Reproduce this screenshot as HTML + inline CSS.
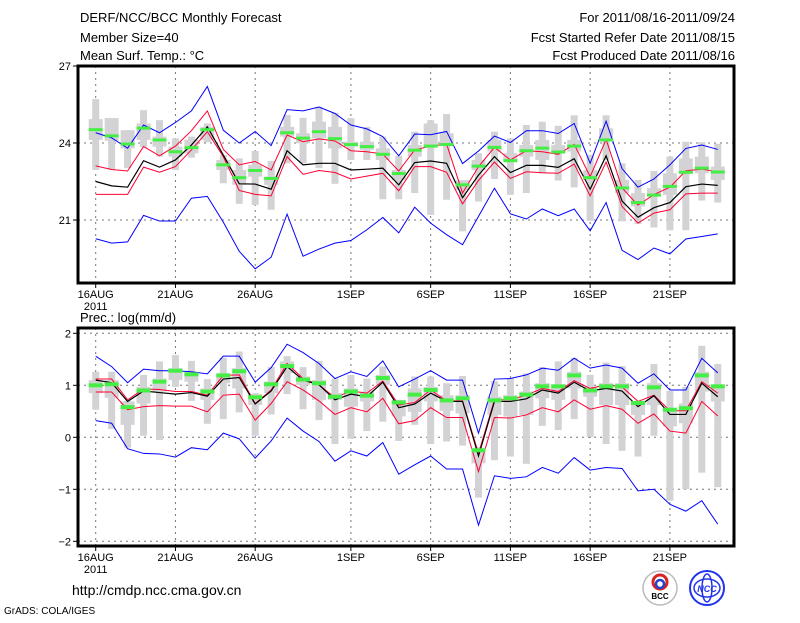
<!DOCTYPE html>
<html><head><meta charset="utf-8"><style>
html,body{margin:0;padding:0;background:#fff;}
svg text{font-family:"Liberation Sans",sans-serif;fill:#000;}
</style></head><body>
<svg id="chart" width="800" height="618" viewBox="0 0 800 618" xmlns="http://www.w3.org/2000/svg">
<text x="80" y="22" font-size="13">DERF/NCC/BCC Monthly Forecast</text>
<text x="80" y="42" font-size="13">Member Size=40</text>
<text x="80" y="60" font-size="13">Mean Surf. Temp.: °C</text>
<text x="735" y="22" font-size="13" text-anchor="end">For 2011/08/16-2011/09/24</text>
<text x="735" y="42" font-size="13" text-anchor="end">Fcst Started Refer Date 2011/08/15</text>
<text x="735" y="60" font-size="13" text-anchor="end">Fcst Produced Date 2011/08/16</text>
<text x="80" y="322" font-size="13">Prec.: log(mm/d)</text>
<text x="72" y="595" font-size="14">http://cmdp.ncc.cma.gov.cn</text>
<text x="4" y="614" font-size="10">GrADS: COLA/IGES</text>
<g>
<circle cx="660" cy="588" r="17" fill="#fff" stroke="#bbb" stroke-width="1.5"/>
<circle cx="660" cy="582" r="7" fill="none" stroke="#d22" stroke-width="3"/>
<circle cx="660" cy="584" r="4" fill="none" stroke="#24c" stroke-width="2.5"/>
<text x="660" y="599" font-size="8" text-anchor="middle" font-weight="bold">BCC</text>
</g>
<g>
<circle cx="707" cy="588" r="17" fill="#fff" stroke="#23e" stroke-width="2"/>
<ellipse cx="707" cy="588" rx="13" ry="9" fill="none" stroke="#23e" stroke-width="1.5"/>
<ellipse cx="707" cy="588" rx="5" ry="14" fill="none" stroke="#23e" stroke-width="1.5"/>
<text x="707" y="592" font-size="9" text-anchor="middle" font-style="italic" font-weight="bold" style="fill:#23e">NCC</text>
</g>
</svg>
<script>
const days = 40;
const tickDays = [0,5,10,16,21,26,31,36];
const tickLabels = ["16AUG","21AUG","26AUG","1SEP","6SEP","11SEP","16SEP","21SEP"];
const tTicks = [27,24,21];
const pTicks = [2,1,0,-1,-2];
// Temperature panel
const tHi=[24.4,24.2,23.8,24.7,24.4,24.8,25.25,26.2,24.5,24.0,24.45,23.9,25.3,25.25,25.4,25.15,24.7,24.55,24.25,23.5,24.35,24.32,24.45,23.2,23.69,24.27,24.02,24.48,24.48,24.37,24.76,23.21,24.85,23.0,22.28,22.6,23.15,23.79,23.92,23.75];
const tLo=[20.27,20.1,20.15,21.18,20.96,20.96,21.85,21.92,20.92,19.78,19.1,19.55,21.23,19.59,19.87,20.1,20.2,20.62,21.1,20.5,21.5,20.88,20.43,20.04,21.14,22.24,21.24,21.04,21.43,21.17,21.43,20.58,21.68,19.82,19.46,19.91,19.68,20.26,20.36,20.46];
const tRu=[23.11,22.97,22.91,23.86,23.5,23.88,24.48,25.25,23.75,23.15,23.28,22.95,24.31,24.05,24.16,24.08,23.7,23.66,23.57,22.91,23.73,23.88,23.96,22.05,23.08,23.83,23.34,23.7,23.66,23.56,23.95,22.69,24.14,22.25,21.58,21.99,22.28,22.92,22.98,22.88];
const tMid=[22.5,22.33,22.28,23.31,23.06,23.34,23.92,24.63,23.53,22.41,22.4,22.2,23.7,23.15,23.21,23.21,22.95,22.98,23.02,22.37,23.24,23.3,23.21,21.87,22.75,23.47,22.85,23.13,23.13,23.05,23.39,22.2,23.5,21.74,21.11,21.48,21.68,22.3,22.4,22.35];
const tRl=[22.0,22.0,22.0,23.06,22.86,23.08,23.73,24.44,23.47,22.15,22.0,21.94,23.47,22.78,22.93,22.85,22.6,22.71,22.82,22.14,23.08,23.08,22.86,21.63,22.54,23.26,22.62,22.88,22.84,22.82,23.18,21.94,23.26,21.53,20.88,21.27,21.4,22.02,22.05,22.05];
const tGreen=[24.52,24.28,23.96,24.58,24.12,23.66,23.82,24.52,23.15,22.65,22.93,22.62,24.4,24.19,24.44,24.17,23.94,23.86,23.56,22.81,23.72,23.88,23.94,22.37,23.1,23.83,23.31,23.7,23.8,23.65,23.88,22.65,24.12,22.25,21.68,21.97,22.31,22.86,23.02,22.87];
const tMax=[25.71,24.97,24.5,25.28,24.89,24.18,24.25,24.76,23.53,23.4,23.69,23.3,25.09,24.98,25.41,25.18,24.97,24.63,24.25,23.5,24.44,24.89,25.13,22.55,23.6,24.44,24.18,24.7,24.83,24.67,25.08,23.54,25.08,23.21,22.56,22.91,23.47,24.05,24.03,23.97];
const tMin=[22.95,22.95,23.02,23.83,23.47,22.95,23.43,24.03,22.43,21.63,21.59,21.4,23.21,23.21,23.02,22.41,23.34,23.34,21.81,21.81,22.05,21.2,21.79,20.56,21.72,22.6,21.98,22.05,22.82,22.54,22.27,20.97,23.34,20.95,20.84,20.71,20.6,20.6,21.76,21.68];
const tQ3=[24.93,24.97,24.5,24.76,24.25,23.86,24.12,24.63,23.34,22.95,23.15,22.69,24.63,24.38,24.83,24.63,24.05,24.05,23.79,22.95,23.92,24.76,24.38,22.55,23.34,24.12,23.6,23.92,24.12,23.92,24.12,22.95,24.57,22.56,22.05,22.24,22.82,23.4,23.47,23.08];
const tQ1=[24.12,24.09,23.79,24.12,23.86,23.47,23.6,24.12,22.95,22.37,22.69,22.37,24.25,23.99,24.18,23.79,23.86,23.73,23.34,22.56,23.47,23.92,23.92,22.17,22.95,23.67,23.34,23.47,23.34,23.6,23.67,22.56,24.12,22.05,21.53,21.92,21.98,22.82,22.82,22.56];
// Precipitation panel
const pHi=[1.56,1.36,1.05,1.31,1.28,1.28,1.26,1.22,1.56,1.56,1.06,1.34,1.79,1.63,1.42,1.13,1.26,1.17,1.47,0.97,1.12,1.28,1.1,1.1,0.08,1.12,1.13,1.2,1.33,1.29,1.52,1.33,1.39,1.33,1.04,1.22,0.91,0.91,1.52,1.24];
const pLo=[0.32,0.27,-0.22,-0.31,-0.32,-0.38,-0.2,-0.24,0.08,-0.03,-0.4,-0.07,0.37,0.12,-0.08,-0.46,-0.26,-0.36,-0.1,-0.71,-0.53,-0.36,-0.61,-0.61,-1.69,-0.74,-0.79,-0.76,-0.58,-0.69,-0.39,-0.63,-0.58,-0.6,-1.03,-1.0,-1.29,-1.42,-1.22,-1.67];
const pRu=[1.12,1.12,0.72,0.93,0.92,0.88,0.88,0.81,1.19,1.2,0.65,0.91,1.42,1.13,1.01,0.76,0.89,0.85,1.08,0.62,0.67,0.91,0.7,0.7,-0.31,0.72,0.72,0.81,0.94,0.88,1.09,0.94,1.01,0.97,0.69,0.81,0.51,0.51,1.07,0.85];
const pMid=[1.1,1.05,0.69,0.89,0.86,0.83,0.86,0.79,1.12,1.15,0.64,0.89,1.36,1.1,1.01,0.72,0.83,0.78,1.06,0.57,0.64,0.85,0.69,0.69,-0.36,0.69,0.69,0.74,0.91,0.85,1.06,0.89,0.94,0.89,0.59,0.8,0.44,0.44,1.04,0.78];
const pRl=[0.87,0.87,0.53,0.59,0.61,0.6,0.6,0.49,0.81,0.83,0.33,0.65,1.07,0.91,0.7,0.44,0.57,0.49,0.75,0.26,0.32,0.57,0.38,0.38,-0.66,0.38,0.37,0.43,0.57,0.49,0.72,0.54,0.61,0.54,0.27,0.45,0.12,0.08,0.69,0.41];
const pGreen=[1.01,1.03,0.59,0.91,1.08,1.29,1.22,0.89,1.2,1.28,0.78,1.03,1.38,1.12,1.05,0.79,0.89,0.81,1.15,0.68,0.83,0.92,0.72,0.76,-0.24,0.72,0.76,0.83,0.99,0.99,1.2,0.91,0.99,0.99,0.67,0.97,0.54,0.57,1.2,0.99];
const pMax=[1.26,1.26,0.7,1.2,1.46,1.58,1.47,1.12,1.53,1.65,0.85,1.35,1.56,1.35,1.47,1.13,1.2,1.13,1.36,0.72,1.17,1.17,1.04,1.18,-0.19,1.08,1.13,1.23,1.35,1.46,1.53,1.2,1.44,1.37,0.69,1.41,0.89,0.97,1.76,1.41];
const pMin=[0.53,0.16,-0.2,0.03,-0.05,0.97,0.7,0.26,0.35,0.48,0.03,0.44,0.83,0.54,0.33,-0.13,-0.03,0.12,0.3,-0.07,0.24,-0.13,-0.08,-0.16,-1.16,-0.44,-0.37,-0.51,0.22,0.14,0.35,0.01,-0.13,-0.26,-0.37,0.03,-1.22,-1.0,-0.68,-0.96];
const pQ3=[1.1,1.1,0.69,0.97,1.13,1.33,1.26,0.94,1.23,1.33,0.83,1.07,1.46,1.17,1.1,0.85,0.94,0.88,1.2,0.72,0.94,0.97,0.81,0.81,-0.24,0.78,0.81,0.88,1.04,1.01,1.26,0.97,1.04,1.04,0.69,1.04,0.56,0.65,1.26,1.01];
const pQ1=[0.85,0.76,0.24,0.65,0.88,1.1,1.07,0.72,1.04,0.94,0.62,0.85,1.23,1.01,0.72,0.72,0.59,0.69,1.01,0.4,0.49,0.69,0.51,0.46,-0.5,0.43,0.4,0.43,0.75,0.72,0.94,0.78,0.62,0.62,0.43,0.62,0.21,0.27,0.88,0.69];

const NS='http://www.w3.org/2000/svg';
const svg=document.getElementById('chart');
const X0=95.7, DX=15.95, LEFT=78, RIGHT=734;
function xScale(i){return X0+i*DX;}
function mk(tag,attrs,parent){const e=document.createElementNS(NS,tag);for(const k in attrs)e.setAttribute(k,attrs[k]);(parent||svg).appendChild(e);return e;}

function panel(cfg){
  const y=v=>cfg.yTop+(cfg.vTop-v)*cfg.ppu;
  const g=mk('g',{});
  
  
  // grid
  cfg.ticks.forEach(t=>{
    const l=mk('line',{x1:LEFT,x2:RIGHT,y1:y(t),y2:y(t),stroke:'#777','stroke-dasharray':'2,4','stroke-width':1},g);
    
    
    const tk=mk('line',{x1:LEFT-5,x2:LEFT,y1:y(t),y2:y(t),stroke:'#000'},g);
    
    
    const tx=mk('text',{x:LEFT-7,y:y(t)+4,'font-size':11,'text-anchor':'end'},g);
    tx.textContent=String(t).replace('-','−');
    
    
  });
  tickDays.forEach((d,k)=>{
    const l=mk('line',{x1:xScale(d),x2:xScale(d),y1:cfg.frameTop,y2:cfg.frameBot,stroke:'#777','stroke-dasharray':'2,4','stroke-width':1},g);
    
    
    const tk=mk('line',{x1:xScale(d),x2:xScale(d),y1:cfg.frameBot,y2:cfg.frameBot+5,stroke:'#000'},g);
    
    
    const tx=mk('text',{x:xScale(d),y:cfg.frameBot+15,'font-size':11,'text-anchor':'middle'},g);
    tx.textContent=tickLabels[k];
    
    
  });
  const yr=mk('text',{x:xScale(0),y:cfg.frameBot+27,'font-size':11,'text-anchor':'middle'},g);
  yr.textContent='2011';
  
  
  // box plots
  for(let i=0;i<days;i++){
    const x=xScale(i);
    const w=mk('rect',{x:x-3.5,y:y(cfg.max[i]),width:7,height:Math.max(1,y(cfg.min[i])-y(cfg.max[i])),fill:'#d3d3d6'},g);
    
    
    const b=mk('rect',{x:x-7,y:y(cfg.q3[i]),width:14,height:Math.max(1,y(cfg.q1[i])-y(cfg.q3[i])),fill:'#d3d3d6'},g);
    
    
  }
  const line=(arr,color,name,wd)=>{
    const p=mk('polyline',{points:arr.map((v,i)=>xScale(i)+','+y(v)).join(' '),fill:'none',stroke:color,'stroke-width':wd||1},g);
    
    
  };
  line(cfg.hi,'#0000ff','upper-bound-line');
  line(cfg.lo,'#0000ff','lower-bound-line');
  line(cfg.ru,'#ff0033','upper-quantile-line');
  line(cfg.rl,'#ff0033','lower-quantile-line');
  line(cfg.mid,'#000','ensemble-mean-line',1.2);
  for(let i=0;i<days;i++){
    const r=mk('rect',{x:xScale(i)-7,y:y(cfg.green[i])-1.5,width:14,height:cfg.gh,fill:'#44ee44'},g);
    
    
  }
  const f=mk('rect',{x:LEFT,y:cfg.frameTop,width:RIGHT-LEFT,height:cfg.frameBot-cfg.frameTop,fill:'none',stroke:'#000','stroke-width':3},g);
  
  
}
panel({name:'temperature-panel',yTop:66,vTop:27,ppu:25.67,frameTop:66,frameBot:283,ticks:tTicks,
  hi:tHi,lo:tLo,ru:tRu,rl:tRl,mid:tMid,green:tGreen,max:tMax,min:tMin,q3:tQ3,q1:tQ1,gh:3});
panel({name:'precipitation-panel',yTop:333.3,vTop:2,ppu:52,frameTop:328,frameBot:546,ticks:pTicks,
  hi:pHi,lo:pLo,ru:pRu,rl:pRl,mid:pMid,green:pGreen,max:pMax,min:pMin,q3:pQ3,q1:pQ1,gh:4});
</script>
</body></html>
